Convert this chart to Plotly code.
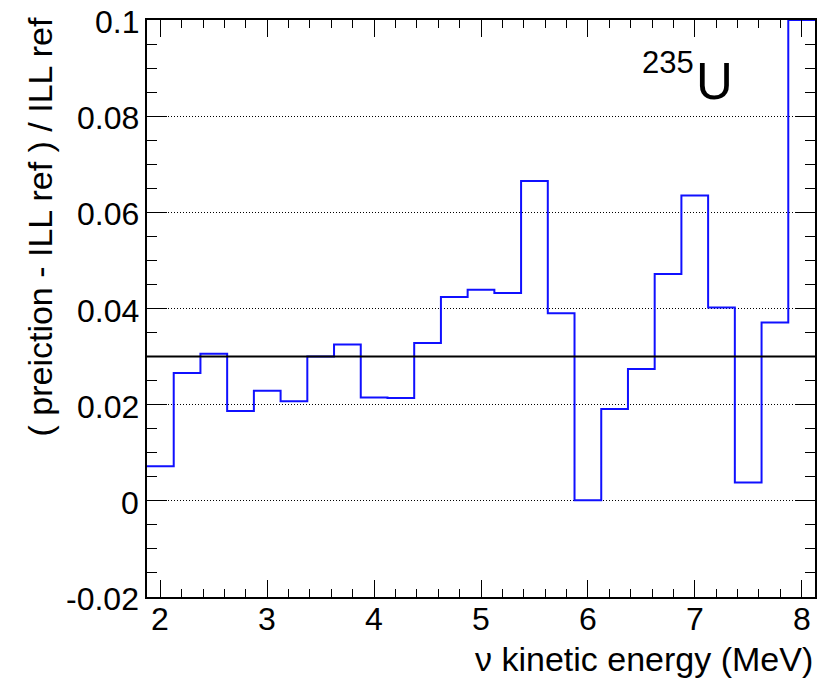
import plotly.graph_objects as go

# ---- data ----
bin_edges = [1.875 + 0.25 * i for i in range(26)]
ratio_values = [0.0072, 0.0266, 0.0306, 0.0187, 0.0229, 0.0207, 0.0300, 0.0325,
                0.0215, 0.0214, 0.0328, 0.0424, 0.0439, 0.0432, 0.0665, 0.0390,
                0.0001, 0.0191, 0.0274, 0.0472, 0.0635, 0.0402, 0.0038, 0.0371,
                0.1000]
reference_level = 0.03
x_tick_vals = [2, 3, 4, 5, 6, 7, 8]
x_tick_text = ["2", "3", "4", "5", "6", "7", "8"]
y_tick_vals = [-0.02, 0.0, 0.02, 0.04, 0.06, 0.08, 0.1]
y_tick_text = ["-0.02", "0", "0.02", "0.04", "0.06", "0.08", "0.1"]

FONT = "Liberation Sans, Arial, Helvetica, sans-serif"

fig = go.Figure()
fig.add_trace(go.Scatter(
    x=bin_edges,
    y=ratio_values + [ratio_values[-1]],
    mode="lines",
    line=dict(color="#1010ff", width=2, shape="hv"),
    showlegend=False,
))
fig.add_trace(go.Scatter(
    x=[bin_edges[0], bin_edges[-1]],
    y=[reference_level, reference_level],
    mode="lines",
    line=dict(color="black", width=2),
    showlegend=False,
))

W, H = 830, 683
L, R, T, B = 147, 15, 20, 86

fig.update_layout(
    width=W, height=H, autosize=False,
    margin=dict(l=L, r=R, t=T, b=B, pad=0),
    plot_bgcolor="white", paper_bgcolor="white",
    font=dict(family=FONT, size=32, color="black"),
)
fig.update_xaxes(
    range=[bin_edges[0], bin_edges[-1]],
    tickmode="array", tickvals=x_tick_vals, ticktext=x_tick_text,
    showticklabels=False,
    ticks="inside", ticklen=17, tickwidth=1, tickcolor="black",
    minor=dict(tickmode="linear", tick0=2, dtick=0.2, ticks="inside",
               ticklen=8, tickwidth=1, tickcolor="black", showgrid=False),
    showline=True, linecolor="black", linewidth=2, mirror="allticks",
    showgrid=False, zeroline=False,
)
fig.update_yaxes(
    range=[-0.02, 0.1],
    tickmode="array", tickvals=y_tick_vals, ticktext=y_tick_text,
    showticklabels=False,
    ticks="inside", ticklen=20, tickwidth=1, tickcolor="black",
    minor=dict(tickmode="linear", tick0=0, dtick=0.005, ticks="inside",
               ticklen=10, tickwidth=1, tickcolor="black", showgrid=False),
    showline=True, linecolor="black", linewidth=2, mirror="allticks",
    showgrid=True, gridcolor="black", gridwidth=1, griddash="1px,2px",
    zeroline=False,
)

pw = W - L - R
ph = H - T - B
def px_x(p):
    return (p - L) / pw
def px_y(p):
    return 1 - (p - T) / ph

# tick labels placed as in the ROOT original
for v, t in zip(x_tick_vals, x_tick_text):
    fig.add_annotation(
        text=t, xref="x", yref="paper", x=v, y=px_y(619),
        xanchor="center", yanchor="middle", showarrow=False,
        font=dict(size=32, family=FONT),
    )
for v, t in zip(y_tick_vals, y_tick_text):
    fig.add_annotation(
        text=t, xref="paper", yref="y", x=px_x(141), y=v, yshift=-2,
        xanchor="right", yanchor="middle", showarrow=False,
        font=dict(size=32, family=FONT),
    )

fig.add_annotation(
    text="( preiction - ILL ref ) / ILL ref",
    xref="paper", yref="paper", x=px_x(39), y=px_y(16),
    xanchor="center", yanchor="top", textangle=-90, showarrow=False,
    font=dict(size=34, family=FONT),
)
fig.add_annotation(
    text="\u03bd kinetic energy (MeV)",
    xref="paper", yref="paper", x=px_x(815), y=px_y(659),
    xanchor="right", yanchor="middle", showarrow=False,
    font=dict(size=34, family=FONT),
)
fig.add_annotation(
    text="235",
    xref="paper", yref="paper", x=px_x(696), y=px_y(62),
    xanchor="right", yanchor="middle", showarrow=False,
    font=dict(size=31, family=FONT),
)
fig.add_annotation(
    text="U",
    xref="paper", yref="paper", x=px_x(694), y=px_y(82),
    xanchor="left", yanchor="middle", showarrow=False,
    font=dict(size=51, family=FONT),
)

fig.write_html("out.html")
